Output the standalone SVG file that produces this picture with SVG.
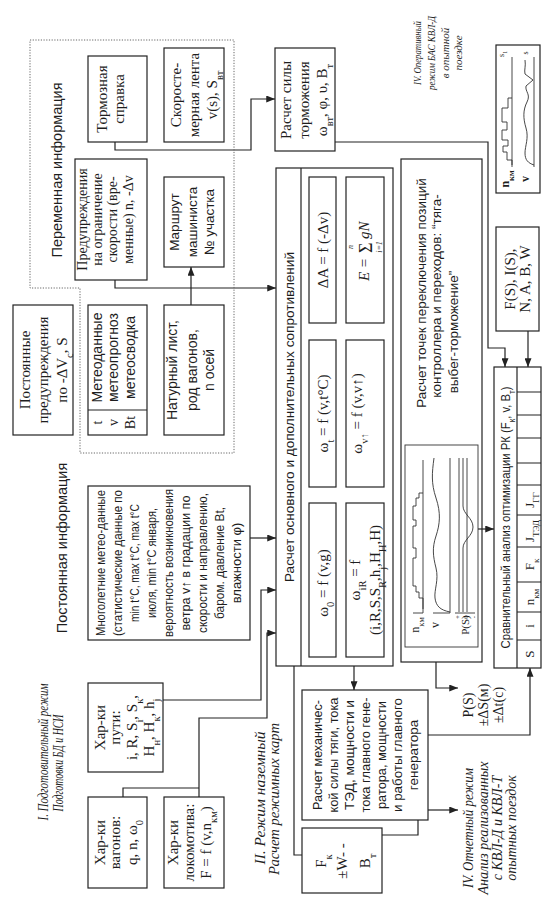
<svg xmlns="http://www.w3.org/2000/svg" width="552" height="898" viewBox="0 0 552 898">
<defs>
<style>
.b{fill:none;stroke:#222;stroke-width:1.2}
.t{fill:none;stroke:#333;stroke-width:0.9}
.d{fill:none;stroke:#666;stroke-width:1;stroke-dasharray:1.2 1.5}
.c{fill:none;stroke:#222;stroke-width:1.2}
.a{marker-end:url(#ah)}
text{fill:#1e1e1e}
.s{font-family:"Liberation Sans",Arial,sans-serif;font-size:13.5px}
.r{font-family:"Liberation Serif","Times New Roman",serif;font-size:15px}
.i{font-family:"Liberation Serif","Times New Roman",serif;font-size:14px;font-style:italic}
.m{text-anchor:middle}
.sb{font-size:70%}
</style>
<marker id="ah" viewBox="0 0 10 8" markerWidth="9" markerHeight="7" refX="10" refY="4" orient="auto" markerUnits="userSpaceOnUse"><path d="M0,0L10,4L0,8z" fill="#222"/></marker>
</defs>
<rect width="552" height="898" fill="#fff"/>
<g transform="translate(0 898) rotate(-90)">

<g id="connectors">
<path class="c a" d="M756,115 H748 V251 H799 V275"/>
<path class="c a" d="M618,115 H610 V276"/>
<path class="c a" d="M593,191 H631"/>
<path class="c a" d="M360,250 V276"/>
<path class="c a" d="M198,163 V261 H308 V276"/>
<path class="c" d="M101,123 H110 V199"/>
<path class="c a" d="M101,199 H180 V267 H265 V276"/>
<path class="c a" d="M232,354 H208"/>
<path class="c" d="M232,294 H43 V302"/>
<path class="c a" d="M756,335 V488 H550 V505 H531"/>
<path class="c a" d="M567,528 H531"/>
<path class="c a" d="M236,436 H210 V458"/>
<path class="c a" d="M163,428 V530 H230"/>
<path class="c a" d="M369,478 V494"/>
<path class="c a" d="M88,428 V458"/>
<path class="c" d="M63,382 V418 H78"/>
</g>

<g id="variable-info">
<polygon class="d" points="858,30 858,234 445,234 445,80 610,80 610,30"/>
<text class="s m" x="728" y="62" style="font-size:14.5px">Переменная информация</text>
</g>

<g id="n-brake-ref">
<rect class="b" x="756" y="88" width="86" height="59"/>
<text class="r m" x="799" y="107">Тормозная</text>
<text class="r m" x="799" y="124">справка</text>
</g>

<g id="n-speed-tape">
<rect class="b" x="756" y="164" width="94" height="60"/>
<text class="r m" x="803" y="181">Скоросте-</text>
<text class="r m" x="803" y="199">мерная лента</text>
<text class="r m" x="803" y="217">v(s), S<tspan class="sb" baseline-shift="sub">вт</tspan></text>
</g>

<g id="n-brake-force">
<rect class="b" x="747" y="275" width="103" height="60"/>
<text class="r m" x="798" y="291">Расчет силы</text>
<text class="r m" x="798" y="309">торможения</text>
<text class="r m" x="798" y="327">ω<tspan class="sb" baseline-shift="sub">вт</tspan>, φ, υ, В<tspan class="sb" baseline-shift="sub">т</tspan></text>
</g>

<g id="n-warnings">
<rect class="b" x="618" y="75" width="121" height="72"/>
<text class="r m" x="678.5" y="87" style="font-size:14px">Предупреждения</text>
<text class="r m" x="678.5" y="102" style="font-size:14px">на ограничение</text>
<text class="r m" x="678.5" y="117" style="font-size:14px">скорости (вре-</text>
<text class="r m" x="678.5" y="133" style="font-size:14px">менные) n, -Δv</text>
</g>

<g id="n-route">
<rect class="b" x="631" y="164" width="90" height="60"/>
<text class="s m" x="676" y="179">Маршрут</text>
<text class="s m" x="676" y="197">машиниста</text>
<text class="s m" x="676" y="214">№ участка</text>
</g>

<g id="n-meteo">
<rect class="b" x="463" y="88" width="130" height="59"/>
<line class="b" x1="488" y1="88" x2="488" y2="147"/>
<text class="r m" x="475.5" y="102" style="font-size:14px">t</text>
<text class="r m" x="475.5" y="118" style="font-size:14px">v</text>
<text class="r m" x="475.5" y="135" style="font-size:14px">Bt</text>
<text class="s m" x="540.5" y="102" style="font-size:14px">Метеоданные</text>
<text class="s m" x="540.5" y="118" style="font-size:14px">метеопрогноз</text>
<text class="s m" x="540.5" y="135" style="font-size:14px">метеосводка</text>
</g>

<g id="n-consist">
<rect class="b" x="463" y="164" width="130" height="60"/>
<text class="s m" x="528" y="177" style="font-size:14px">Натурный лист,</text>
<text class="s m" x="528" y="197" style="font-size:14px">род вагонов,</text>
<text class="s m" x="528" y="214" style="font-size:14px">n осей</text>
</g>

<g id="n-permanent-warnings">
<rect class="b" x="463" y="13" width="130" height="60"/>
<text class="r m" x="528" y="30">Постоянные</text>
<text class="r m" x="528" y="48">предупреждения</text>
<text class="r m" x="528" y="67">по -ΔV<tspan class="sb" baseline-shift="sub">c</tspan>, S</text>
</g>

<g id="permanent-info-label">
<text class="s m" x="350" y="67" style="font-size:14.5px">Постоянная информация</text>
</g>

<g id="n-climate">
<rect class="b" x="258" y="88" width="154" height="162"/>
<text class="s m" x="335" y="105" style="font-size:13px" textLength="146" lengthAdjust="spacingAndGlyphs">Многолетние метео-данные</text>
<text class="s m" x="335" y="122" style="font-size:13px" textLength="146" lengthAdjust="spacingAndGlyphs">(статистические данные по</text>
<text class="s m" x="335" y="139" style="font-size:13px" textLength="118" lengthAdjust="spacingAndGlyphs">min t°C, max t°C, max t°C</text>
<text class="s m" x="335" y="156" style="font-size:13px" textLength="110" lengthAdjust="spacingAndGlyphs">июля, min t°C января,</text>
<text class="s m" x="335" y="173" style="font-size:13px" textLength="148" lengthAdjust="spacingAndGlyphs">вероятность возникновения</text>
<text class="s m" x="335" y="190" style="font-size:13px" textLength="135" lengthAdjust="spacingAndGlyphs">ветра v↑ в градации по</text>
<text class="s m" x="335" y="207" style="font-size:13px" textLength="140" lengthAdjust="spacingAndGlyphs">скорости и направлению,</text>
<text class="s m" x="335" y="224" style="font-size:13px" textLength="112" lengthAdjust="spacingAndGlyphs">баром. давление Вt,</text>
<text class="s m" x="335" y="241" style="font-size:13px">влажности φ)</text>
</g>

<g id="n-track">
<rect class="b" x="126" y="88" width="89" height="75"/>
<text class="r m" x="170.5" y="105">Хар-ки</text>
<text class="r m" x="170.5" y="120">пути:</text>
<text class="r m" x="170.5" y="137">i, R, S<tspan class="sb" baseline-shift="sub">i</tspan>, S<tspan class="sb" baseline-shift="sub">к</tspan>,</text>
<text class="r m" x="170.5" y="154">H<tspan class="sb" baseline-shift="sub">н</tspan>, H<tspan class="sb" baseline-shift="sub">к</tspan>, h<tspan class="sb" baseline-shift="sub">j</tspan></text>
</g>

<g id="n-wagons">
<rect class="b" x="10" y="88" width="91" height="59"/>
<text class="r m" x="55.5" y="105">Хар-ки</text>
<text class="r m" x="55.5" y="120">вагонов:</text>
<text class="r m" x="55.5" y="137">q, n, ω<tspan class="sb" baseline-shift="sub">0</tspan></text>
</g>

<g id="n-loco">
<rect class="b" x="10" y="164" width="91" height="60"/>
<text class="r m" x="55.5" y="178">Хар-ки</text>
<text class="r m" x="55.5" y="194">локомотива:</text>
<text class="r m" x="55.5" y="211">F = f (v,n<tspan class="sb" baseline-shift="sub">км</tspan>)</text>
</g>

<g id="n-resistance">
<rect class="b" x="232" y="276" width="498" height="117"/>
<line class="b" x1="232" y1="301" x2="730" y2="301"/>
<text class="s m" x="481" y="293.5" textLength="330" lengthAdjust="spacingAndGlyphs">Расчет основного и дополнительных сопротивлений</text>
<rect class="b" x="575" y="309" width="146" height="27"/>
<text class="r m" x="648" y="328">ΔA = f (-Δv)</text>
<rect class="b" x="575" y="346" width="146" height="38"/>
<text class="r" x="640" y="369" text-anchor="end" font-style="italic">E =</text>
<text class="r" x="645" y="372" style="font-size:18px">Σ</text>
<text class="r m" x="651" y="353" style="font-size:8px" font-style="italic">n</text>
<text class="r m" x="651" y="382" style="font-size:8px" font-style="italic">i=1</text>
<text class="r" x="659" y="369" font-style="italic">gN</text>
<rect class="b" x="411" y="309" width="147" height="27"/>
<text class="r m" x="484.5" y="328">ω<tspan class="sb" baseline-shift="sub">t</tspan> = f (v,t°C)</text>
<rect class="b" x="411" y="346" width="147" height="38"/>
<text class="r m" x="484.5" y="362">ω<tspan class="sb" baseline-shift="sub">v↑</tspan> = f (v,v↑)</text>
<rect class="b" x="241" y="309" width="154" height="27"/>
<text class="r m" x="315" y="328">ω<tspan class="sb" baseline-shift="sub">0</tspan> = f (v,g)</text>
<rect class="b" x="241" y="346" width="154" height="38"/>
<text class="r m" x="318" y="360">ω<tspan class="sb" baseline-shift="sub">iR</tspan> = f</text>
<text class="r m" x="318" y="380">(i,R,S,S<tspan class="sb" baseline-shift="sub">R</tspan>,h<tspan class="sb" baseline-shift="sub">j</tspan>,H<tspan class="sb" baseline-shift="sub">Н</tspan>,H)</text>
</g>

<g id="n-switch-points">
<rect class="b" x="236" y="401" width="503" height="81"/>
<text class="s m" x="605" y="426">Расчет точек переключения позиций</text>
<text class="s m" x="602" y="441">контроллера и переходов: “тяга-</text>
<text class="s m" x="566" y="458">выбег-торможение”</text>
</g>

<g id="n-mode-chart">
<rect class="t" x="251" y="405" width="202" height="73"/>
<text class="r m" x="273" y="419" style="font-size:12px">n<tspan class="sb" baseline-shift="sub">км</tspan></text>
<text class="r m" x="273" y="439" style="font-size:12px">v</text>
<text class="r m" x="273" y="469" style="font-size:11px">P(S)</text>
<path class="t" d="M285,413 V423 H438"/>
<path class="t" d="M289,423 H300 V419 H306 V416 H312 V413 H340 V416 H350 V413 H372 V416 H378 V413 H392 V416 H400 V419 H405 V423"/>
<path class="t" d="M285,433 V450 H440"/>
<path class="t" d="M286,450 C288,440 292,436 300,435 S318,439 330,436 S350,432 362,436 S385,441 400,436 S425,432 440,434"/>
<path class="t" d="M285,455 V475 M286,459 H440 M286,467 H440"/>
<path class="t" d="M286,463 H350 C358,463 362,473 371,473 C380,473 384,463 392,463 H440"/>
<text class="r m" x="281" y="460" style="font-size:7px">+</text>
<text class="r m" x="281" y="468" style="font-size:7px">0</text>
<text class="r m" x="281" y="476" style="font-size:7px">-</text>
</g>

<g id="n-mech">
<rect class="b" x="78" y="302" width="130" height="126"/>
<text class="s m" x="143" y="322" textLength="110" lengthAdjust="spacingAndGlyphs">Расчет механичес-</text>
<text class="s m" x="143" y="338" textLength="115" lengthAdjust="spacingAndGlyphs">кой силы тяги, тока</text>
<text class="s m" x="143" y="354" textLength="110" lengthAdjust="spacingAndGlyphs">ТЭД, мощности и</text>
<text class="s m" x="143" y="370" textLength="115" lengthAdjust="spacingAndGlyphs">тока главного гене-</text>
<text class="s m" x="143" y="386" textLength="108" lengthAdjust="spacingAndGlyphs">ратора, мощности</text>
<text class="s m" x="143" y="402" textLength="114" lengthAdjust="spacingAndGlyphs">и работы главного</text>
<text class="s m" x="143" y="418">генератора</text>
</g>

<g id="n-fk">
<rect class="b" x="5" y="302" width="65" height="80"/>
<text class="r m" x="37" y="326">F<tspan class="sb" baseline-shift="sub">к</tspan></text>
<text class="r m" x="37" y="347">±W- -</text>
<text class="r m" x="37" y="370">В<tspan class="sb" baseline-shift="sub">т</tspan></text>
</g>

<g id="n-ps">
<text class="r m" x="193" y="473" style="font-size:14px">P(S)</text>
<text class="r m" x="193" y="488" style="font-size:14px">±ΔS(м)</text>
<text class="r m" x="193" y="503" style="font-size:14px">±Δt(c)</text>
</g>

<g id="n-fs">
<rect class="b" x="567" y="496" width="104" height="43"/>
<text class="r m" x="619" y="515">F(S), I(S),</text>
<text class="r m" x="619" y="530">N, A, B, W</text>
</g>

<g id="n-table">
<rect class="b" x="230" y="494" width="301" height="47"/>
<line class="b" x1="230" y1="517" x2="531" y2="517"/>
<path class="b" d="M258,517 V541 M286,517 V541 M316,517 V541 M351,517 V541 M383,517 V541 M413,517 V541 M435,517 V541 M460,517 V541 M483,517 V541 M506,517 V541"/>
<text class="s m" x="380.5" y="510" style="font-size:12.5px" textLength="262" lengthAdjust="spacingAndGlyphs">Сравнительный анализ оптимизации РК (F<tspan class="sb" baseline-shift="sub">к</tspan>, v, В<tspan class="sb" baseline-shift="sub">т</tspan>)</text>
<text class="r m" x="244" y="534" style="font-size:13px">S</text>
<text class="r m" x="272" y="534" style="font-size:13px">i</text>
<text class="r m" x="301" y="534" style="font-size:13px">n<tspan class="sb" baseline-shift="sub">км</tspan></text>
<text class="r m" x="333.5" y="534" style="font-size:13px">F<tspan class="sb" baseline-shift="sub">к</tspan></text>
<text class="r m" x="367" y="534" style="font-size:13px">J<tspan class="sb" baseline-shift="sub">ТЭД</tspan></text>
<text class="r m" x="398" y="534" style="font-size:13px">J<tspan class="sb" baseline-shift="sub">ГГ</tspan></text>
</g>

<g id="n-online-chart">
<rect class="b" x="705" y="496" width="148" height="44"/>
<text class="r m" x="719" y="509" style="font-size:12px;font-weight:bold">n<tspan class="sb" baseline-shift="sub">км</tspan></text>
<text class="r m" x="719" y="529" style="font-size:12px;font-weight:bold">v</text>
<path class="t" d="M731,512 H841"/>
<path class="t" d="M733,512 H738 V507 H746 V503 H752 V508 H758 V502 H768 V507 H776 V502 H790 V508 H800 V512"/>
<path class="t" d="M731,534 H841"/>
<path class="t" d="M733,534 C735,528 738,525 745,525 S760,529 770,526 S788,523 796,527 S806,525 812,526 L818,533 L824,525 C828,524 832,526 838,525"/>
<text class="r m" x="844" y="504" style="font-size:8px">s<tspan class="sb" baseline-shift="sub">1</tspan></text>
<text class="r m" x="845" y="528" style="font-size:8px">s</text>
</g>

<g id="mode-labels">
<text class="i m" x="146" y="48" textLength="137" lengthAdjust="spacingAndGlyphs">I. Подготовительный режим</text>
<text class="i m" x="135" y="63" textLength="97" lengthAdjust="spacingAndGlyphs">Подготовки БД и НСИ</text>
<text class="i m" x="100" y="265" textLength="133" lengthAdjust="spacingAndGlyphs">II. Режим наземный</text>
<text class="i m" x="99" y="279" textLength="152" lengthAdjust="spacingAndGlyphs">Расчет режимных карт</text>
<text class="i m" x="845" y="421" style="font-size:11px" textLength="64" lengthAdjust="spacingAndGlyphs">IV. Оперативный</text>
<text class="i m" x="845" y="435" style="font-size:11px" textLength="74" lengthAdjust="spacingAndGlyphs">режим БАС КВЛ-Д</text>
<text class="i m" x="845" y="449" style="font-size:11px">в опытной</text>
<text class="i m" x="845" y="462" style="font-size:11px">поездке</text>
<text class="i m" x="70" y="473" textLength="120" lengthAdjust="spacingAndGlyphs">IV. Отчетный режим</text>
<text class="i m" x="70" y="488" textLength="133" lengthAdjust="spacingAndGlyphs">Анализ реализованных</text>
<text class="i m" x="70" y="502">с КВЛ-Д и КВЛ-Т</text>
<text class="i m" x="70" y="516">опытных поездок</text>
</g>

</g>
</svg>
